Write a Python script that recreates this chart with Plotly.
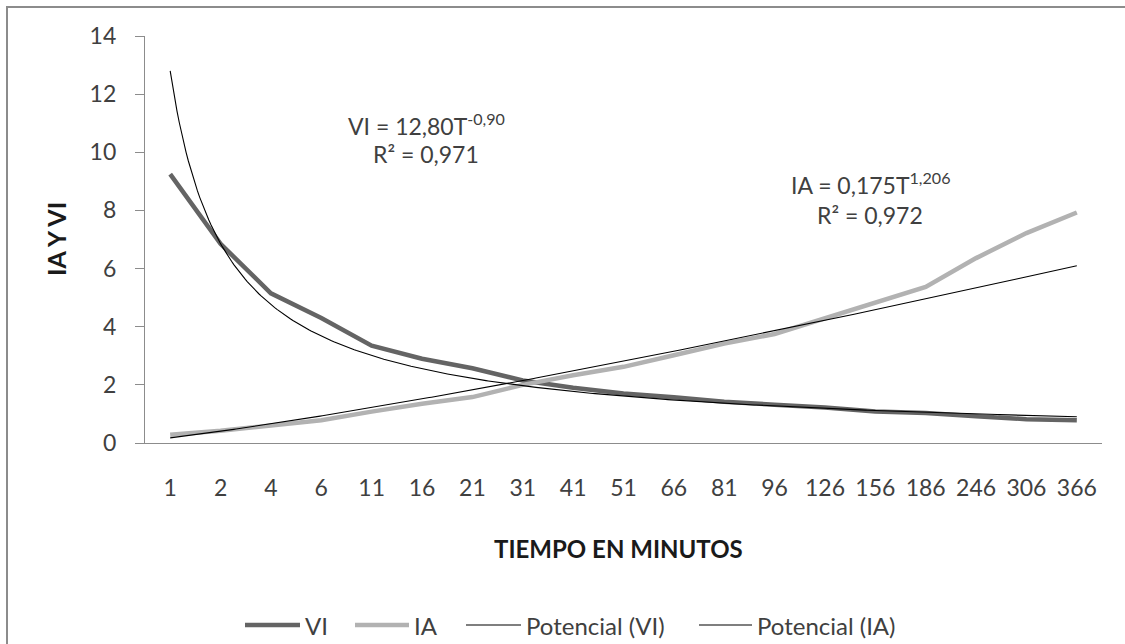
import numpy as np
import plotly.graph_objects as go

# Time categories (minutes) and measured series
tiempo = ["1", "2", "4", "6", "11", "16", "21", "31", "41", "51",
          "66", "81", "96", "126", "156", "186", "246", "306", "366"]
vi = [9.25, 6.85, 5.15, 4.30, 3.35, 2.90, 2.57, 2.15, 1.90, 1.70,
      1.57, 1.42, 1.32, 1.22, 1.08, 1.03, 0.92, 0.82, 0.78]
ia = [0.28, 0.42, 0.60, 0.78, 1.08, 1.35, 1.58, 2.00, 2.33, 2.62,
      3.02, 3.42, 3.75, 4.28, 4.85, 5.37, 6.36, 7.22, 7.93]

# Power-law trend coefficients (a * T^b), fitted on category index
vi_a, vi_b, vi_r2 = 12.80, -0.90, 0.971
ia_a, ia_b, ia_r2 = 0.175, 1.206, 0.972

y_ticks = [0, 2, 4, 6, 8, 10, 12, 14]

FONT = "Lato, 'Open Sans', sans-serif"
TXT = "#404040"
C_VI = "#646464"
C_IA = "#b2b2b2"

W, H = 1125, 644
L, R, T, B = 145, 1102, 36, 443


def px(x):
    return (x - L) / (R - L)


def py(y):
    return (B - y) / (B - T)


idx = np.arange(1, len(tiempo) + 1)
xs = np.linspace(1, len(tiempo), 400)

fig = go.Figure()
fig.add_trace(go.Scatter(x=idx, y=vi, mode="lines", name="VI",
                         line=dict(color=C_VI, width=4.5), showlegend=False))
fig.add_trace(go.Scatter(x=idx, y=ia, mode="lines", name="IA",
                         line=dict(color=C_IA, width=4.5), showlegend=False))
fig.add_trace(go.Scatter(x=xs, y=vi_a * xs ** vi_b, mode="lines", name="Potencial (VI)",
                         line=dict(color="#000000", width=1.1), showlegend=False))
fig.add_trace(go.Scatter(x=xs, y=ia_a * xs ** ia_b, mode="lines", name="Potencial (IA)",
                         line=dict(color="#000000", width=1.1), showlegend=False))

fig.update_xaxes(range=[0.5, len(tiempo) + 0.5], tickmode="array",
                 tickvals=list(idx), ticktext=tiempo, showgrid=False, zeroline=False,
                 showline=True, linecolor="#8c8c8c", linewidth=1.2, ticks="",
                 tickfont=dict(family=FONT, size=23, color=TXT), ticklabelstandoff=24)
fig.update_yaxes(range=[0, 14], tickmode="array", tickvals=y_ticks,
                 showgrid=False, zeroline=False, showline=True, linecolor="#8c8c8c",
                 linewidth=1.2, ticks="outside", ticklen=9, tickcolor="#8c8c8c",
                 tickfont=dict(family=FONT, size=23, color=TXT), ticklabelstandoff=14)


def fmt(v, nd):
    return f"{v:.{nd}f}".replace(".", ",")


annotations = [
    dict(x=px(426), y=py(125), text=f"VI = {fmt(vi_a, 2)}T<sup>{fmt(vi_b, 2)}</sup>"),
    dict(x=px(426), y=py(154), text=f"R² = {fmt(vi_r2, 3)}"),
    dict(x=px(871), y=py(183), text=f"IA = {fmt(ia_a, 3)}T<sup>{fmt(ia_b, 3)}</sup>"),
    dict(x=px(870), y=py(215), text=f"R² = {fmt(ia_r2, 3)}"),
]
for a in annotations:
    a.update(xref="paper", yref="paper", showarrow=False, xanchor="center",
             yanchor="middle", font=dict(family=FONT, size=23, color=TXT))
    fig.add_annotation(**a)

# Axis titles
fig.add_annotation(x=px(618), y=py(548), xref="paper", yref="paper", showarrow=False,
                   text="<b>TIEMPO EN MINUTOS</b>", xanchor="center", yanchor="middle",
                   font=dict(family=FONT, size=24, color="#1a1a1a"))
fig.add_annotation(x=px(56), y=py(239), xref="paper", yref="paper", showarrow=False,
                   text="<b>IA Y VI</b>", textangle=-90, xanchor="center", yanchor="middle",
                   font=dict(family=FONT, size=25, color="#1a1a1a"))

# Legend row
legend_items = [
    ("VI", C_VI, 4.5, 245, 300),
    ("IA", C_IA, 4.5, 355, 409),
    ("Potencial (VI)", "#000000", 1.1, 466, 521),
    ("Potencial (IA)", "#000000", 1.1, 699, 752),
]
ly = 625
shapes = []
for name, col, wdt, x0, x1 in legend_items:
    shapes.append(dict(type="line", xref="paper", yref="paper",
                       x0=px(x0), x1=px(x1), y0=py(ly), y1=py(ly),
                       line=dict(color=col, width=wdt)))
    fig.add_annotation(x=px(x1 + 3), y=py(ly), xref="paper", yref="paper",
                       showarrow=False, text=name, xanchor="left", yanchor="middle",
                       font=dict(family=FONT, size=24, color=TXT))

# Chart frame (left and top edges visible)
shapes.append(dict(type="line", xref="paper", yref="paper", x0=px(7), x1=px(7),
                   y0=py(6), y1=py(660), line=dict(color="#8c8c8c", width=2)))
shapes.append(dict(type="line", xref="paper", yref="paper", x0=px(6), x1=px(1140),
                   y0=py(7), y1=py(7), line=dict(color="#8c8c8c", width=2)))

fig.update_layout(width=W, height=H, margin=dict(l=L, r=W - R, t=T, b=H - B),
                  paper_bgcolor="white", plot_bgcolor="white", shapes=shapes,
                  font=dict(family=FONT))

fig.write_html("out.html")
